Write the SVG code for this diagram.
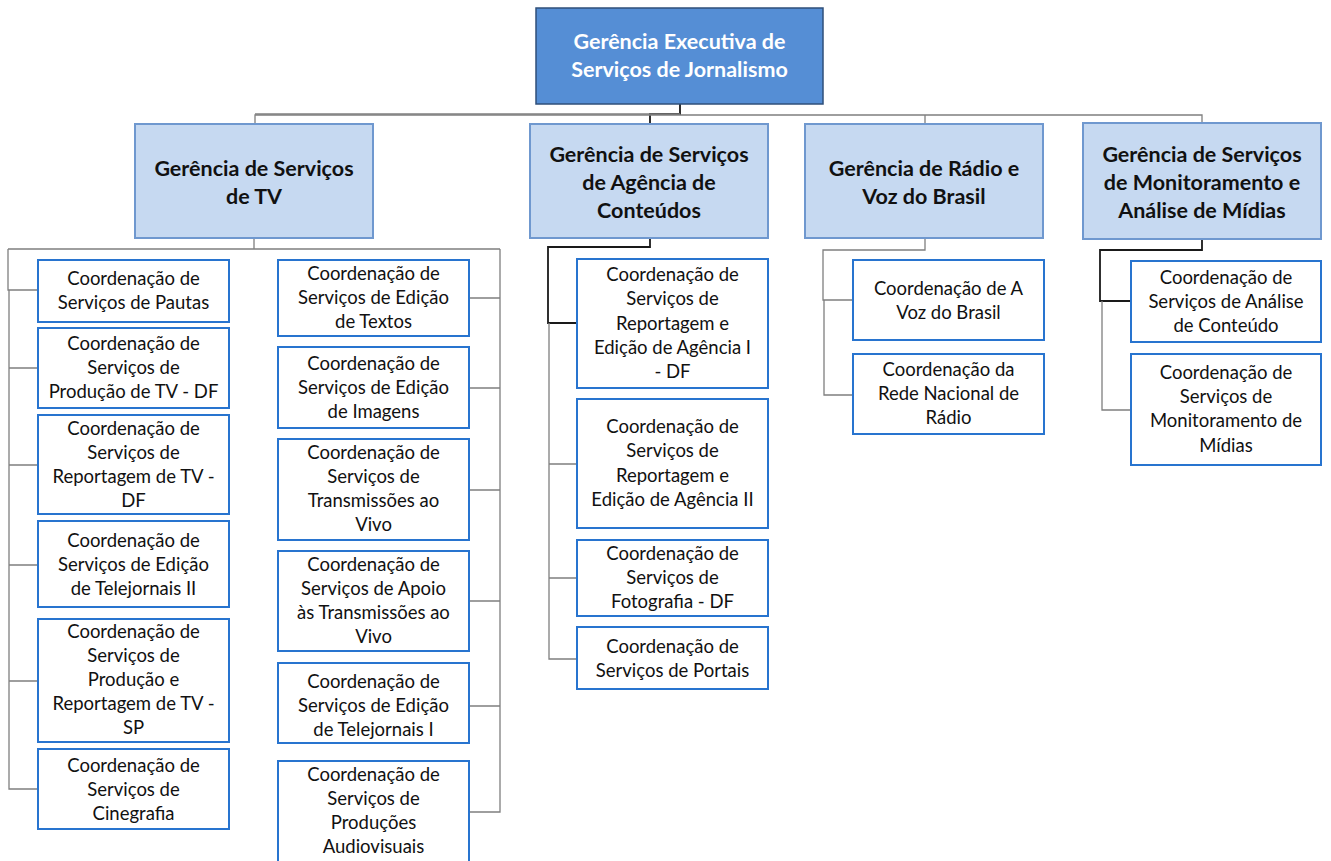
<svg xmlns="http://www.w3.org/2000/svg" width="1331" height="861" viewBox="0 0 1331 861">
<style>
.top{fill:#558ED5;stroke:#2F4F7A;stroke-width:1.5}
.mgr{fill:#C6D9F1;stroke:#6F98CF;stroke-width:2}
.co{fill:#FFFFFF;stroke:#2874CF;stroke-width:2}
.ht{font-family:Lato,"Liberation Sans",sans-serif;font-weight:bold;font-size:21.5px;fill:#111;text-anchor:middle}
.tt{font-family:Lato,"Liberation Sans",sans-serif;font-weight:bold;font-size:21.5px;fill:#FFFFFF;text-anchor:middle}
.ct{font-family:Lato,"Liberation Sans",sans-serif;font-size:18.5px;fill:#111;text-anchor:middle}
.ln{fill:none;stroke:#7F7F7F;stroke-width:1.3}
.dk{fill:none;stroke:#1A1A1A;stroke-width:1.8}
</style>
<rect width="1331" height="861" fill="#FFFFFF"/>
<g id="connectors">
<path class="dk" d="M680 104V114H650V124"/>
<path class="ln" d="M255 124V115H1202V124M925 115V124"/>
<path class="ln" d="M680 114H255"/>
<path class="ln" d="M254 238V249M8 249H500M8 249V290H38M500 249V812H469M9 290V789H38M9 368H38M9 465H38M9 565H38M9 681H38"/>
<path class="ln" d="M469 298H500M469 388H500M469 490H500M469 601H500M469 706H500"/>
<path class="dk" d="M650 238V247H548V323H577"/>
<path class="ln" d="M549 323V659H577M549 464H577M549 578H577"/>
<path class="ln" d="M925 238V250H823V300H853M824 300V395H853"/>
<path class="dk" d="M1202 239V250H1100V301H1131"/>
<path class="ln" d="M1102 301V410H1131"/>
</g>
<g id="n-top"><rect class="top" x="536" y="8" width="287" height="96"/>
<text class="tt" x="679.5" y="49">Gerência Executiva de</text><text class="tt" x="679.5" y="77">Serviços de Jornalismo</text></g>
<g id="n-tv"><rect class="mgr" x="135" y="124" width="238" height="114"/>
<text class="ht" x="254" y="176">Gerência de Serviços</text><text class="ht" x="254" y="204">de TV</text></g>
<g id="n-ag"><rect class="mgr" x="530" y="124" width="238" height="114"/>
<text class="ht" x="649" y="162">Gerência de Serviços</text><text class="ht" x="649" y="190">de Agência de</text><text class="ht" x="649" y="218">Conteúdos</text></g>
<g id="n-radio"><rect class="mgr" x="805" y="124" width="238" height="114"/>
<text class="ht" x="924" y="176">Gerência de Rádio e</text><text class="ht" x="924" y="204">Voz do Brasil</text></g>
<g id="n-mon"><rect class="mgr" x="1083" y="123" width="238" height="116"/>
<text class="ht" x="1202" y="162">Gerência de Serviços</text><text class="ht" x="1202" y="190">de Monitoramento e</text><text class="ht" x="1202" y="218">Análise de Mídias</text></g>

<g id="c-pautas"><rect class="co" x="38" y="260" width="191" height="62"/>
<text class="ct" x="133.5" y="285">Coordenação de</text><text class="ct" x="133.5" y="309">Serviços de Pautas</text></g>
<g id="c-prod-df"><rect class="co" x="38" y="328" width="191" height="80"/>
<text class="ct" x="133.5" y="350">Coordenação de</text><text class="ct" x="133.5" y="374">Serviços de</text><text class="ct" x="133.5" y="398">Produção de TV - DF</text></g>
<g id="c-rep-df"><rect class="co" x="38" y="415" width="191" height="99"/>
<text class="ct" x="133.5" y="435">Coordenação de</text><text class="ct" x="133.5" y="459">Serviços de</text><text class="ct" x="133.5" y="483">Reportagem de TV -</text><text class="ct" x="133.5" y="507">DF</text></g>
<g id="c-tele2"><rect class="co" x="38" y="521" width="191" height="86"/>
<text class="ct" x="133.5" y="547">Coordenação de</text><text class="ct" x="133.5" y="571">Serviços de Edição</text><text class="ct" x="133.5" y="595">de Telejornais II</text></g>
<g id="c-sp"><rect class="co" x="38" y="619" width="191" height="123"/>
<text class="ct" x="133.5" y="638">Coordenação de</text><text class="ct" x="133.5" y="662">Serviços de</text><text class="ct" x="133.5" y="686">Produção e</text><text class="ct" x="133.5" y="710">Reportagem de TV -</text><text class="ct" x="133.5" y="734">SP</text></g>
<g id="c-cine"><rect class="co" x="38" y="749" width="191" height="80"/>
<text class="ct" x="133.5" y="772">Coordenação de</text><text class="ct" x="133.5" y="796">Serviços de</text><text class="ct" x="133.5" y="820">Cinegrafia</text></g>

<g id="c-textos"><rect class="co" x="278" y="260" width="191" height="76"/>
<text class="ct" x="373.5" y="280">Coordenação de</text><text class="ct" x="373.5" y="304">Serviços de Edição</text><text class="ct" x="373.5" y="328">de Textos</text></g>
<g id="c-imagens"><rect class="co" x="278" y="347" width="191" height="81"/>
<text class="ct" x="373.5" y="370">Coordenação de</text><text class="ct" x="373.5" y="394">Serviços de Edição</text><text class="ct" x="373.5" y="418">de Imagens</text></g>
<g id="c-trans"><rect class="co" x="278" y="439" width="191" height="101"/>
<text class="ct" x="373.5" y="459">Coordenação de</text><text class="ct" x="373.5" y="483">Serviços de</text><text class="ct" x="373.5" y="507">Transmissões ao</text><text class="ct" x="373.5" y="531">Vivo</text></g>
<g id="c-apoio"><rect class="co" x="278" y="551" width="191" height="100"/>
<text class="ct" x="373.5" y="571">Coordenação de</text><text class="ct" x="373.5" y="595">Serviços de Apoio</text><text class="ct" x="373.5" y="619">às Transmissões ao</text><text class="ct" x="373.5" y="643">Vivo</text></g>
<g id="c-tele1"><rect class="co" x="278" y="663" width="191" height="80"/>
<text class="ct" x="373.5" y="688">Coordenação de</text><text class="ct" x="373.5" y="712">Serviços de Edição</text><text class="ct" x="373.5" y="736">de Telejornais I</text></g>
<g id="c-audio"><rect class="co" x="278" y="761" width="191" height="110"/>
<text class="ct" x="373.5" y="781">Coordenação de</text><text class="ct" x="373.5" y="805">Serviços de</text><text class="ct" x="373.5" y="829">Produções</text><text class="ct" x="373.5" y="853">Audiovisuais</text></g>

<g id="c-ag1"><rect class="co" x="577" y="259" width="191" height="129"/>
<text class="ct" x="672.5" y="281">Coordenação de</text><text class="ct" x="672.5" y="305">Serviços de</text><text class="ct" x="672.5" y="330">Reportagem e</text><text class="ct" x="672.5" y="354">Edição de Agência I</text><text class="ct" x="672.5" y="378">- DF</text></g>
<g id="c-ag2"><rect class="co" x="577" y="399" width="191" height="129"/>
<text class="ct" x="672.5" y="433">Coordenação de</text><text class="ct" x="672.5" y="457">Serviços de</text><text class="ct" x="672.5" y="482">Reportagem e</text><text class="ct" x="672.5" y="506">Edição de Agência II</text></g>
<g id="c-foto"><rect class="co" x="577" y="540" width="191" height="76"/>
<text class="ct" x="672.5" y="560">Coordenação de</text><text class="ct" x="672.5" y="584">Serviços de</text><text class="ct" x="672.5" y="608">Fotografia - DF</text></g>
<g id="c-portais"><rect class="co" x="577" y="627" width="191" height="62"/>
<text class="ct" x="672.5" y="653">Coordenação de</text><text class="ct" x="672.5" y="677">Serviços de Portais</text></g>

<g id="c-voz"><rect class="co" x="853" y="260" width="191" height="80"/>
<text class="ct" x="948.5" y="295">Coordenação de A</text><text class="ct" x="948.5" y="319">Voz do Brasil</text></g>
<g id="c-rede"><rect class="co" x="853" y="354" width="191" height="80"/>
<text class="ct" x="948.5" y="376">Coordenação da</text><text class="ct" x="948.5" y="400">Rede Nacional de</text><text class="ct" x="948.5" y="424">Rádio</text></g>

<g id="c-analise"><rect class="co" x="1131" y="261" width="190" height="81"/>
<text class="ct" x="1226" y="284">Coordenação de</text><text class="ct" x="1226" y="308">Serviços de Análise</text><text class="ct" x="1226" y="332">de Conteúdo</text></g>
<g id="c-monit"><rect class="co" x="1131" y="354" width="190" height="111"/>
<text class="ct" x="1226" y="379">Coordenação de</text><text class="ct" x="1226" y="403">Serviços de</text><text class="ct" x="1226" y="427">Monitoramento de</text><text class="ct" x="1226" y="452">Mídias</text></g>
</svg>
